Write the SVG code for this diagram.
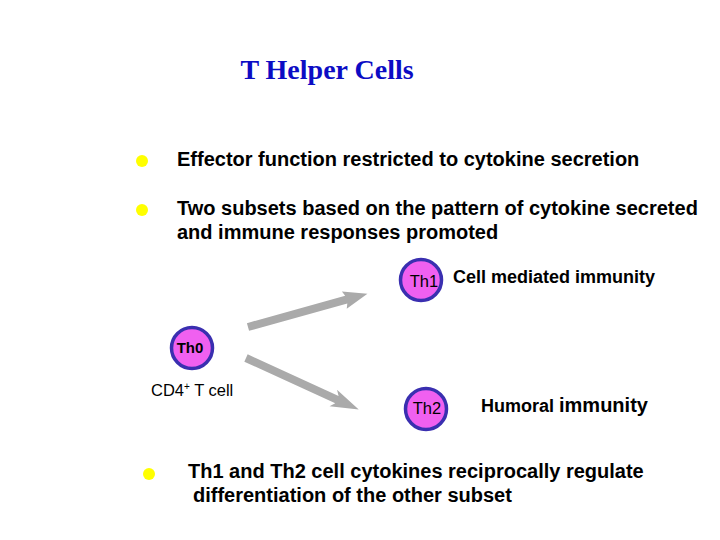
<svg xmlns="http://www.w3.org/2000/svg" width="720" height="540" viewBox="0 0 720 540">
<style>
.t{font-family:"Liberation Sans",Arial,sans-serif;fill:#000}
.b{font-weight:bold}
.cell{fill:#f060f0;stroke:#3a2fb0;stroke-width:3.5}
.bul{fill:#ffff00}
.arr{fill:#aaaaaa}
</style>
<rect width="720" height="540" fill="#fff"/>
<text x="327" y="79" text-anchor="middle" font-family="'Liberation Serif','Times New Roman',serif" font-size="28" font-weight="bold" fill="#0c0cc4">T Helper Cells</text>
<circle class="bul" cx="142" cy="161" r="6"/>
<circle class="bul" cx="142" cy="210" r="6"/>
<circle class="bul" cx="149" cy="474" r="6"/>
<text class="t b" x="177" y="166" font-size="20">Effector function restricted to cytokine secretion</text>
<text class="t b" x="177" y="215" font-size="20">Two subsets based on the pattern of cytokine secreted</text>
<text class="t b" x="177" y="239" font-size="20">and immune responses promoted</text>
<g id="connectors">
<g id="arrow-th1" transform="translate(248,327) rotate(-15.6)">
<polygon class="arr" points="0,-4 102,-4 100,-9 124,0 100,9 102,4 0,4"/>
</g>
<g id="arrow-th2" transform="translate(246,358) rotate(24.6)">
<polygon class="arr" points="0,-4 100,-4 96,-9 124,0 96,9 100,4 0,4"/>
</g>
</g>
<g id="th0">
<circle class="cell" cx="192" cy="348" r="20.5"/>
<text class="t b" x="190" y="353" font-size="15" text-anchor="middle">Th0</text>
<text class="t" x="151" y="396" font-size="16.5">CD4<tspan font-size="10" dy="-6">+</tspan><tspan dy="6"> T cell</tspan></text>
</g>
<g id="th1">
<circle class="cell" cx="421" cy="280" r="20.5"/>
<text class="t" x="424" y="287" font-size="16.5" text-anchor="middle">Th1</text>
<text class="t b" x="453" y="283" font-size="18">Cell mediated immunity</text>
</g>
<g id="th2">
<circle class="cell" cx="426" cy="409" r="20.5"/>
<text class="t" x="427" y="414" font-size="16.5" text-anchor="middle">Th2</text>
<text class="t b" x="481" y="412" font-size="18">Humoral <tspan font-size="20">immunity</tspan></text>
</g>
<text class="t b" x="188" y="478" font-size="20">Th1 and Th2 cell cytokines reciprocally regulate</text>
<text class="t b" x="193" y="502" font-size="20">differentiation of the other subset</text>
</svg>
